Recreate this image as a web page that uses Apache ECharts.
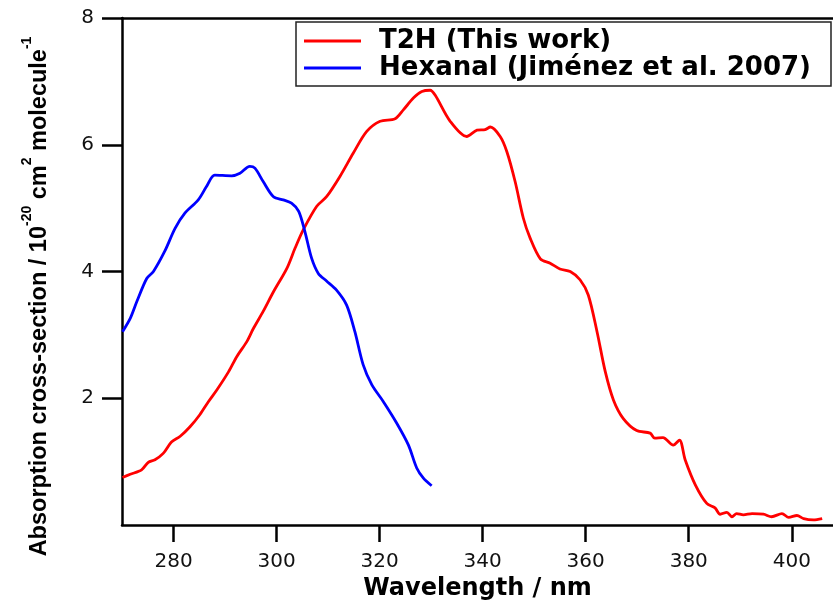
<!DOCTYPE html>
<html>
<head>
<meta charset="utf-8">
<script src="https://cdn.jsdelivr.net/npm/echarts@6/dist/echarts.min.js"></script>
<style>
  html, body { margin: 0; padding: 0; background: #fff; }
  #chart { width: 833px; height: 604px; }
</style>
</head>
<body>
<div id="chart"></div>
<script>
// T2H (this work): wavelength (nm) and cross-section (1e-20 cm2/molecule)
const t2hNm = [270.1, 271.6, 273.8, 275.1, 276.4, 278.0, 279.6, 281.3, 283.2, 285.1, 286.8, 288.4,
  290.7, 292.3, 294.2, 295.5, 297.4, 299.4, 302.0, 303.6, 305.2, 307.8, 309.7, 312.3, 314.9,
  317.5, 320.1, 323.0, 324.6, 326.6, 328.2, 329.8, 330.8, 333.7, 336.9, 338.9, 340.5, 341.5,
  343.4, 344.7, 346.3, 347.9, 349.2, 351.2, 353.1, 355.0, 357.0, 358.9, 360.5, 362.2, 363.8,
  365.4, 367.3, 369.9, 372.5, 373.4, 375.0, 377.0, 378.2, 379.3, 381.3, 383.5, 385.1, 386.1,
  387.4, 388.4, 389.3, 390.6, 392.3, 394.5, 396.1, 398.1, 399.4, 401.0, 402.3, 404.2, 405.9]
const t2hVal = [0.75, 0.80, 0.87, 0.99, 1.03, 1.13, 1.31, 1.40, 1.55, 1.74, 1.95, 2.13,
  2.42, 2.66, 2.89, 3.10, 3.37, 3.68, 4.05, 4.37, 4.66, 5.03, 5.18, 5.50, 5.87,
  6.21, 6.37, 6.41, 6.55, 6.74, 6.84, 6.86, 6.78, 6.37, 6.13, 6.23, 6.24, 6.28,
  6.13, 5.89, 5.42, 4.84, 4.53, 4.20, 4.13, 4.04, 4.00, 3.87, 3.63, 3.05, 2.42,
  1.97, 1.68, 1.49, 1.45, 1.37, 1.38, 1.26, 1.34, 1.03, 0.63, 0.34, 0.27, 0.17,
  0.20, 0.13, 0.18, 0.16, 0.18, 0.17, 0.13, 0.18, 0.12, 0.15, 0.10, 0.08, 0.10]

// Hexanal (Jiménez et al. 2007)
const hexNm = [270.1, 271.6, 272.9, 274.8, 276.1, 278.3, 280.3, 282.2, 284.8, 286.4, 288.0,
  291.3, 292.9, 294.8, 295.8, 297.4, 299.4, 301.3, 302.9, 304.3, 305.5, 306.8, 308.1,
  309.7, 311.6, 313.6, 315.2, 316.8, 318.5, 320.7, 323.3, 325.6, 327.2, 328.5, 330.1]
const hexVal = [3.05, 3.26, 3.53, 3.89, 4.00, 4.32, 4.68, 4.92, 5.13, 5.34, 5.52,
  5.51, 5.55, 5.66, 5.63, 5.42, 5.18, 5.13, 5.08, 4.95, 4.63, 4.21, 3.97,
  3.85, 3.71, 3.47, 3.05, 2.53, 2.21, 1.95, 1.61, 1.26, 0.90, 0.74, 0.62]

const xTicks = [280, 300, 320, 340, 360, 380, 400]
const yTicks = [2, 4, 6, 8]

const pairs = (xs, ys) => xs.map((x, i) => [x, ys[i]])

let chart = echarts.init(document.getElementById("chart"), null, { renderer: "canvas" })
const wide = "DejaVu Sans"
const narrow = "Liberation Sans"
const axisLine = { show: true, lineStyle: { color: "#000", width: 2.5 } }

chart.setOption({
  animation: false,
  textStyle: { fontFamily: wide },
  grid: { left: 122, right: 0, top: 18, bottom: 79, containLabel: false, outerBoundsMode: "none" },
  legend: {
    orient: "vertical",
    left: 296, top: 22,
    borderColor: "#222", borderWidth: 1.5,
    padding: [6, 20, 5, 8],
    itemGap: 1,
    itemWidth: 57, itemHeight: 3,
    icon: "rect",
    textStyle: { fontFamily: wide, fontSize: 26, fontWeight: "bold", color: "#000", padding: [0, 0, 0, 13] },
    data: ["T2H (This work)", "Hexanal (Jiménez et al. 2007)"]
  },
  xAxis: [{
    type: "value",
    min: 270, max: 408,
    axisLine: axisLine,
    axisTick: { show: true, length: 17, lineStyle: { color: "#000", width: 2.5 }, customValues: xTicks },
    axisLabel: { color: "#111", fontSize: 20, margin: 27, customValues: xTicks },
    splitLine: { show: false },
    name: "Wavelength / nm",
    nameLocation: "middle",
    nameGap: 52,
    nameTextStyle: { fontFamily: wide, fontSize: 24, fontWeight: "bold", color: "#000" }
  }, {
    type: "value",
    position: "top",
    min: 270, max: 408,
    axisLine: axisLine,
    axisTick: { show: false },
    axisLabel: { show: false },
    splitLine: { show: false }
  }],
  yAxis: {
    type: "value",
    min: 0, max: 8,
    axisLine: axisLine,
    axisTick: { show: true, length: 20, lineStyle: { color: "#000", width: 2.5 }, customValues: yTicks },
    axisLabel: { color: "#111", fontSize: 20, margin: 28, customValues: yTicks },
    splitLine: { show: false },
    name: "{b|Absorption cross-section / 10}{s|-20}{b| cm}{s|2}{b| molecule}{s|-1}",
    nameLocation: "middle",
    nameRotate: 90,
    nameGap: 70,
    nameTextStyle: {
      padding: [0, 50, 0, 0],
      rich: {
        b: { fontFamily: narrow, fontSize: 23.5, fontWeight: "bold", color: "#000", lineHeight: 32, verticalAlign: "bottom" },
        s: { fontFamily: narrow, fontSize: 14, fontWeight: "bold", color: "#000", lineHeight: 32, verticalAlign: "top" }
      }
    }
  },
  series: [{
    name: "T2H (This work)",
    type: "line",
    data: pairs(t2hNm, t2hVal),
    showSymbol: false,
    smooth: 0.3,
    color: "#ff0000",
    lineStyle: { color: "#ff0000", width: 2.8 }
  }, {
    name: "Hexanal (Jiménez et al. 2007)",
    type: "line",
    data: pairs(hexNm, hexVal),
    showSymbol: false,
    smooth: 0.3,
    color: "#0000ff",
    lineStyle: { color: "#0000ff", width: 2.8 }
  }]
})
</script>
</body>
</html>
